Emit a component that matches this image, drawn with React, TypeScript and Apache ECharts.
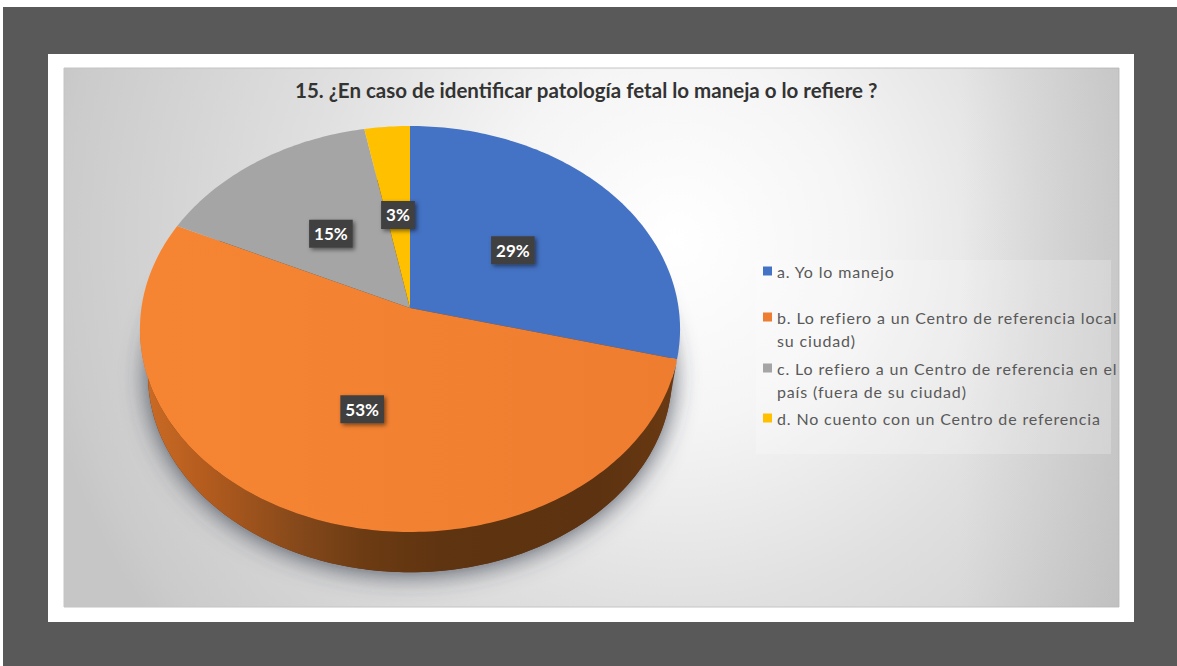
import React, { useEffect, useRef } from "react";
import * as echarts from "echarts";

const titleText = "15. ¿En caso de identificar patología fetal lo maneja o lo refiere ?";
const categories = [
  "a. Yo lo manejo",
  "b. Lo refiero a un Centro de referencia local",
  "c. Lo refiero a un Centro de referencia en el",
  "d. No cuento con un Centro de referencia",
];
const secondLines = ["", "su ciudad)", "país (fuera de su ciudad)", ""];
const values = [29, 53, 15, 3];
const colors = ["#4472C4", "#ED7D31", "#A5A5A5", "#FFC000"];
const legendTops = [263, 309, 360, 410];

// Perspective projection of the pie's disc
const CX = 410, CY = 308, A = 268.6, B = 200.8, K = 0.1034;
const S = 0.97, CYB = 355;
const project = (deg: number, rho = 1) => {
  const t = (deg * Math.PI) / 180;
  const X = rho * Math.sin(t), Y = rho * Math.cos(t);
  const w = 1 + K * Y;
  return [CX + (A * X) / w, CY - (B * Y) / w];
};
const projectLow = (deg: number) => {
  const [x, y] = project(deg);
  return [CX + (x - CX) * S, CYB + (y - CY) * S];
};
const arcPoints = (from: number, to: number, fn = project) => {
  const pts: number[][] = [];
  const n = Math.max(2, Math.ceil(Math.abs(to - from)));
  for (let i = 0; i <= n; i++) pts.push(fn(from + ((to - from) * i) / n));
  return pts;
};
const total = values.reduce((a, b) => a + b, 0);
const starts = values.map((_, i) => (values.slice(0, i).reduce((a, b) => a + b, 0) / total) * 360);
const VIS_TO = 264.1;
const SIDE_SLICE = 1; // only the orange slice shows its wall

const sideFill = () =>
  new echarts.graphic.LinearGradient(0, 0, 1, 0, [
    { offset: 0, color: "#cc6c25" },
    { offset: 0.12, color: "#b45c1e" },
    { offset: 0.3, color: "#84481a" },
    { offset: 0.42, color: "#6c3b13" },
    { offset: 0.56, color: "#5f3410" },
    { offset: 0.85, color: "#5c3210" },
    { offset: 1, color: "#6a3a12" },
  ]);

const topFill = (i: number) =>
  i === 1
    ? new echarts.graphic.LinearGradient(0, 0, 1, 0, [
        { offset: 0, color: "#f68533" },
        { offset: 1, color: "#ee7d30" },
      ])
    : colors[i];

const makeSlice = (i: number) => ({
  type: "custom",
  name: categories[i],
  coordinateSystem: "none",
  itemStyle: { color: colors[i] },
  z: 3,
  silent: true,
  data: [[values[i]]],
  renderItem: (_p: any, api: any) => {
    const sweep = (api.value(0) / total) * 360;
    const from = starts[i], to = from + sweep;
    const children: any[] = [];
    if (i === SIDE_SLICE) {
      const st = Math.min(to, VIS_TO);
      const upper = arcPoints(from, st);
      const lower = arcPoints(st, from, projectLow);
      children.push({
        type: "polygon",
        shape: { points: [...upper, ...lower] },
        style: { fill: sideFill() },
      });
    }
    children.push({
      type: "polygon",
      shape: { points: [[CX, CY], ...arcPoints(from, to)] },
      style: { fill: topFill(i) },
    });
    const [lx, ly] = project((from + to) / 2, 0.5);
    children.push({
      type: "text",
      x: lx,
      y: ly + 2,
      z2: 20,
      style: {
        text: `${api.value(0)}%`,
        fill: "#ffffff",
        font: "bold 17px Lato",
        align: "center",
        verticalAlign: "middle",
        backgroundColor: "#404040",
        padding: [6, 5, 5, 5],
        shadowBlur: 4,
        shadowColor: "rgba(0,0,0,0.5)",
        shadowOffsetX: 2,
        shadowOffsetY: 2,
      },
    });
    return { type: "group", children };
  },
});

const shadowSeries = {
  type: "custom",
  name: "sombra",
  coordinateSystem: "none",
  z: 2,
  silent: true,
  data: [[1]],
  renderItem: () => ({
    type: "polygon",
    shape: { points: arcPoints(0, 360, projectLow) },
    style: {
      fill: "#5c3210",
      shadowBlur: 26,
      shadowColor: "rgba(50,55,70,0.85)",
      shadowOffsetY: 2,
    },
  }),
};

const legendText = { fontFamily: "Lato", fontSize: 16, color: "#595959" };
const LEGEND_TRACKING = "0.85px";

export default function App() {
  const ref = useRef<HTMLDivElement>(null);
  useEffect(() => {
    const chart = echarts.init(ref.current!, undefined, { renderer: "svg" });
    chart.setOption({
      animation: false,
      backgroundColor: "#ffffff",
      title: {
        text: titleText,
        left: 295,
        top: 79,
        padding: 0,
        textStyle: { fontFamily: "Lato", fontWeight: "bold", fontSize: 20.5, color: "#333333" },
      },
      legend: categories.map((c, i) => ({
        data: [c],
        left: 763,
        top: legendTops[i],
        padding: 0,
        icon: "rect",
        itemWidth: 9,
        itemHeight: 9,
        itemGap: 5,
        selectedMode: false,
        textStyle: legendText,
      })),
      graphic: [
        { type: "rect", z: -10, shape: { x: 3, y: 7, width: 1174, height: 659 }, style: { fill: "#595959" } },
        { type: "rect", z: -9, shape: { x: 48, y: 54, width: 1086, height: 568 }, style: { fill: "#ffffff" } },
        {
          type: "rect",
          z: -8,
          shape: { x: 64, y: 68, width: 1055, height: 539 },
          style: {
            stroke: "#c4c4c4",
            lineWidth: 1,
            fill: new echarts.graphic.RadialGradient(
              676,
              240,
              647,
              [
                { offset: 0, color: "#ffffff" },
                { offset: 0.28, color: "#f5f5f5" },
                { offset: 0.57, color: "#e0e0e0" },
                { offset: 0.95, color: "#cbcbcb" },
                { offset: 1, color: "#c6c6c6" },
              ],
              true
            ),
          },
        },
        {
          type: "rect",
          z: -7.5,
          shape: { x: 64, y: 68, width: 1055, height: 539 },
          style: {
            fill: new echarts.graphic.LinearGradient(0, 0, 1, 0, [
              { offset: 0, color: "rgba(150,150,150,0)" },
              { offset: 0.85, color: "rgba(150,150,150,0)" },
              { offset: 1, color: "rgba(150,150,150,0.25)" },
            ]),
          },
        },
        {
          type: "rect",
          z: -7,
          shape: { x: 756, y: 260, width: 355, height: 194 },
          style: { fill: "rgba(255,255,255,0.22)" },
        },
        ...secondLines
          .map((t, i) => ({ t, i }))
          .filter((o) => o.t)
          .map((o) => ({
            type: "text",
            z: 10,
            x: 777,
            y: legendTops[o.i] + 23,
            style: { text: o.t, font: "16px Lato", fill: "#595959" },
          })),
      ],
      series: [shadowSeries, ...values.map((_, i) => makeSlice(i))],
    });
    // Legend texts in the reference are widely tracked; SVG text takes it directly.
    const legendStrings = [...categories, ...secondLines.filter(Boolean)];
    ref.current!.querySelectorAll("text").forEach((t) => {
      if (legendStrings.includes(t.textContent || "")) {
        (t as SVGTextElement).style.letterSpacing = LEGEND_TRACKING;
      }
    });
    return () => chart.dispose();
  }, []);
  return <div ref={ref} style={{ position: "fixed", left: 0, top: 0, width: 1177, height: 666 }} />;
}
